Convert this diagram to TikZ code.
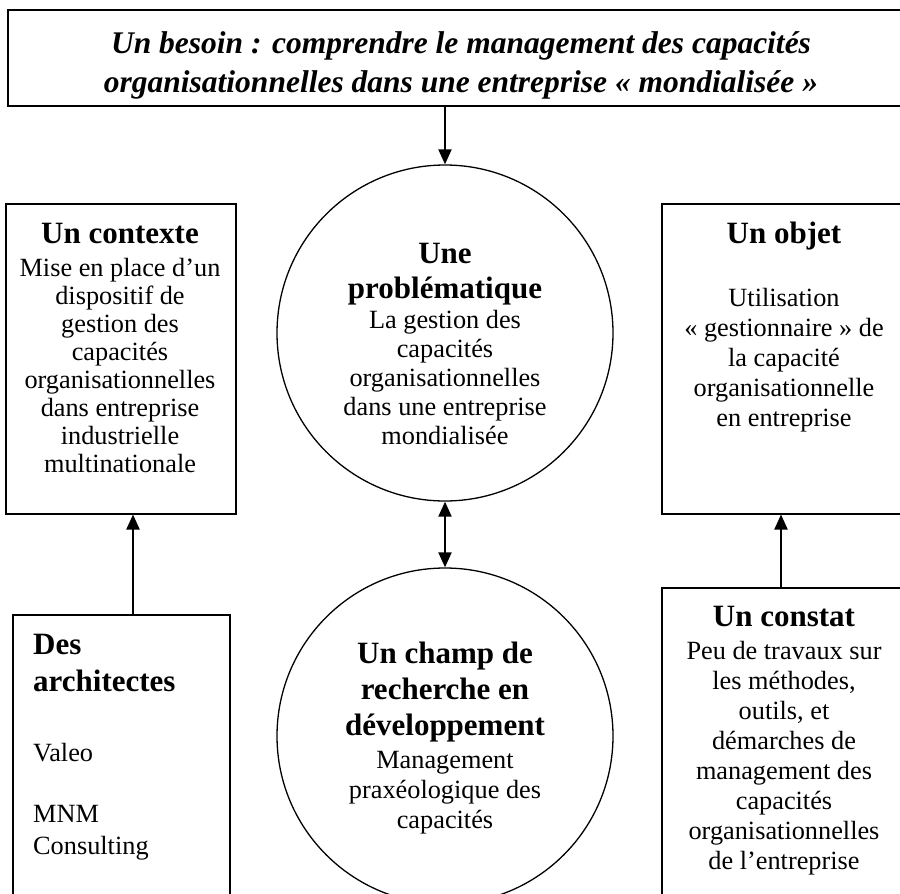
\documentclass[tikz,border=0pt]{standalone}
\usepackage{fontspec}
\setmainfont{Liberation Serif}
\usetikzlibrary{arrows.meta}
\begin{document}
\begin{tikzpicture}[x=1pt,y=-1pt,
  boxline/.style={draw, line width=1.5pt, inner sep=0pt},
  ring/.style={draw, circle, line width=1.3pt, minimum size=336pt, inner sep=0pt},
  conn/.style={line width=2pt, -{Triangle[width=13pt,length=15pt]}},
  twoway/.style={line width=2pt, {Triangle[width=13pt,length=15pt]}-{Triangle[width=13pt,length=15pt]}},
  body/.style={anchor=base, inner sep=0pt, font=\fontsize{26.3}{28}\selectfont},
  bodyl/.style={anchor=base west, inner sep=0pt, font=\fontsize{26.3}{28}\selectfont},
  head/.style={anchor=base, inner sep=0pt, font=\fontsize{31}{35}\selectfont\bfseries},
  headl/.style={anchor=base west, inner sep=0pt, font=\fontsize{31}{35}\selectfont\bfseries},
  ttl/.style={anchor=base, inner sep=0pt, font=\fontsize{31.5}{38}\selectfont\bfseries\itshape},
]
\useasboundingbox (0,0) rectangle (900,894);
\fill[white] (0,0) rectangle (900,894);

% frames
\node[boxline, minimum width=908pt, minimum height=96pt, anchor=north west] (top) at (7,9) {};
\node[boxline, minimum width=230pt, minimum height=310pt, anchor=north west] (ctx) at (5,203) {};
\node[boxline, minimum width=217pt, minimum height=300pt, anchor=north west] (arch) at (12,614) {};
\node[boxline, minimum width=246pt, minimum height=310pt, anchor=north west] (obj) at (661,203) {};
\node[boxline, minimum width=246pt, minimum height=323pt, anchor=north west] (cst) at (661,587) {};
\node[ring] (pb) at (445,333) {};
\node[ring] (ch) at (445,736) {};

% connectors
\coordinate (la) at (133,0);
\coordinate (ra) at (781,0);
\draw[conn] (pb.north |- top.south) -- (pb.north);
\draw[twoway] (pb.south) -- (ch.north);
\draw[conn] (la |- arch.north) -- (la |- ctx.south);
\draw[conn] (ra |- cst.north) -- (ra |- obj.south);

% title
\node[ttl] (t1) at (461,53) {Un besoin : comprendre le management des capacités};
\node[ttl] (t2) at (461,92) {organisationnelles dans une entreprise « mondialisée »};

% contexte
\node[head] (c0) at (120,243) {Un contexte};
\node[body] (c1) at (120,276) {Mise en place d’un};
\node[body] (c2) at (120,304) {dispositif de};
\node[body] (c3) at (120,332) {gestion des};
\node[body] (c4) at (120,360) {capacités};
\node[body] (c5) at (120,388) {organisationnelles};
\node[body] (c6) at (120,416) {dans entreprise};
\node[body] (c7) at (120,444) {industrielle};
\node[body] (c8) at (120,472) {multinationale};

% objet
\node[head] (o0) at (784,243) {Un objet};
\node[body] (o1) at (784,306) {Utilisation};
\node[body] (o2) at (784,336) {« gestionnaire » de};
\node[body] (o3) at (784,366) {la capacité};
\node[body] (o4) at (784,396) {organisationnelle};
\node[body] (o5) at (784,426) {en entreprise};

% problematique
\node[head] (p0) at (445,263) {Une};
\node[head] (p1) at (445,298) {problématique};
\node[body] (p2) at (445,328) {La gestion des};
\node[body] (p3) at (445,357) {capacités};
\node[body] (p4) at (445,386) {organisationnelles};
\node[body] (p5) at (445,415) {dans une entreprise};
\node[body] (p6) at (445,444) {mondialisée};

% champ
\node[head] (h0) at (445,663) {Un champ de};
\node[head] (h1) at (445,699) {recherche en};
\node[head] (h2) at (445,735) {développement};
\node[body] (h3) at (445,768) {Management};
\node[body] (h4) at (445,798) {praxéologique des};
\node[body] (h5) at (445,828) {capacités};

% architectes
\node[headl] (a0) at (33,654) {Des};
\node[headl] (a1) at (33,691) {architectes};
\node[bodyl] (a2) at (33,761) {Valeo};
\node[bodyl] (a3) at (33,822) {MNM};
\node[bodyl] (a4) at (33,854) {Consulting};

% constat
\node[head] (s0) at (784,626) {Un constat};
\node[body] (s1) at (784,659) {Peu de travaux sur};
\node[body] (s2) at (784,689) {les méthodes,};
\node[body] (s3) at (784,719) {outils, et};
\node[body] (s4) at (784,749) {démarches de};
\node[body] (s5) at (784,779) {management des};
\node[body] (s6) at (784,809) {capacités};
\node[body] (s7) at (784,839) {organisationnelles};
\node[body] (s8) at (784,869) {de l’entreprise};
\end{tikzpicture}
\end{document}
